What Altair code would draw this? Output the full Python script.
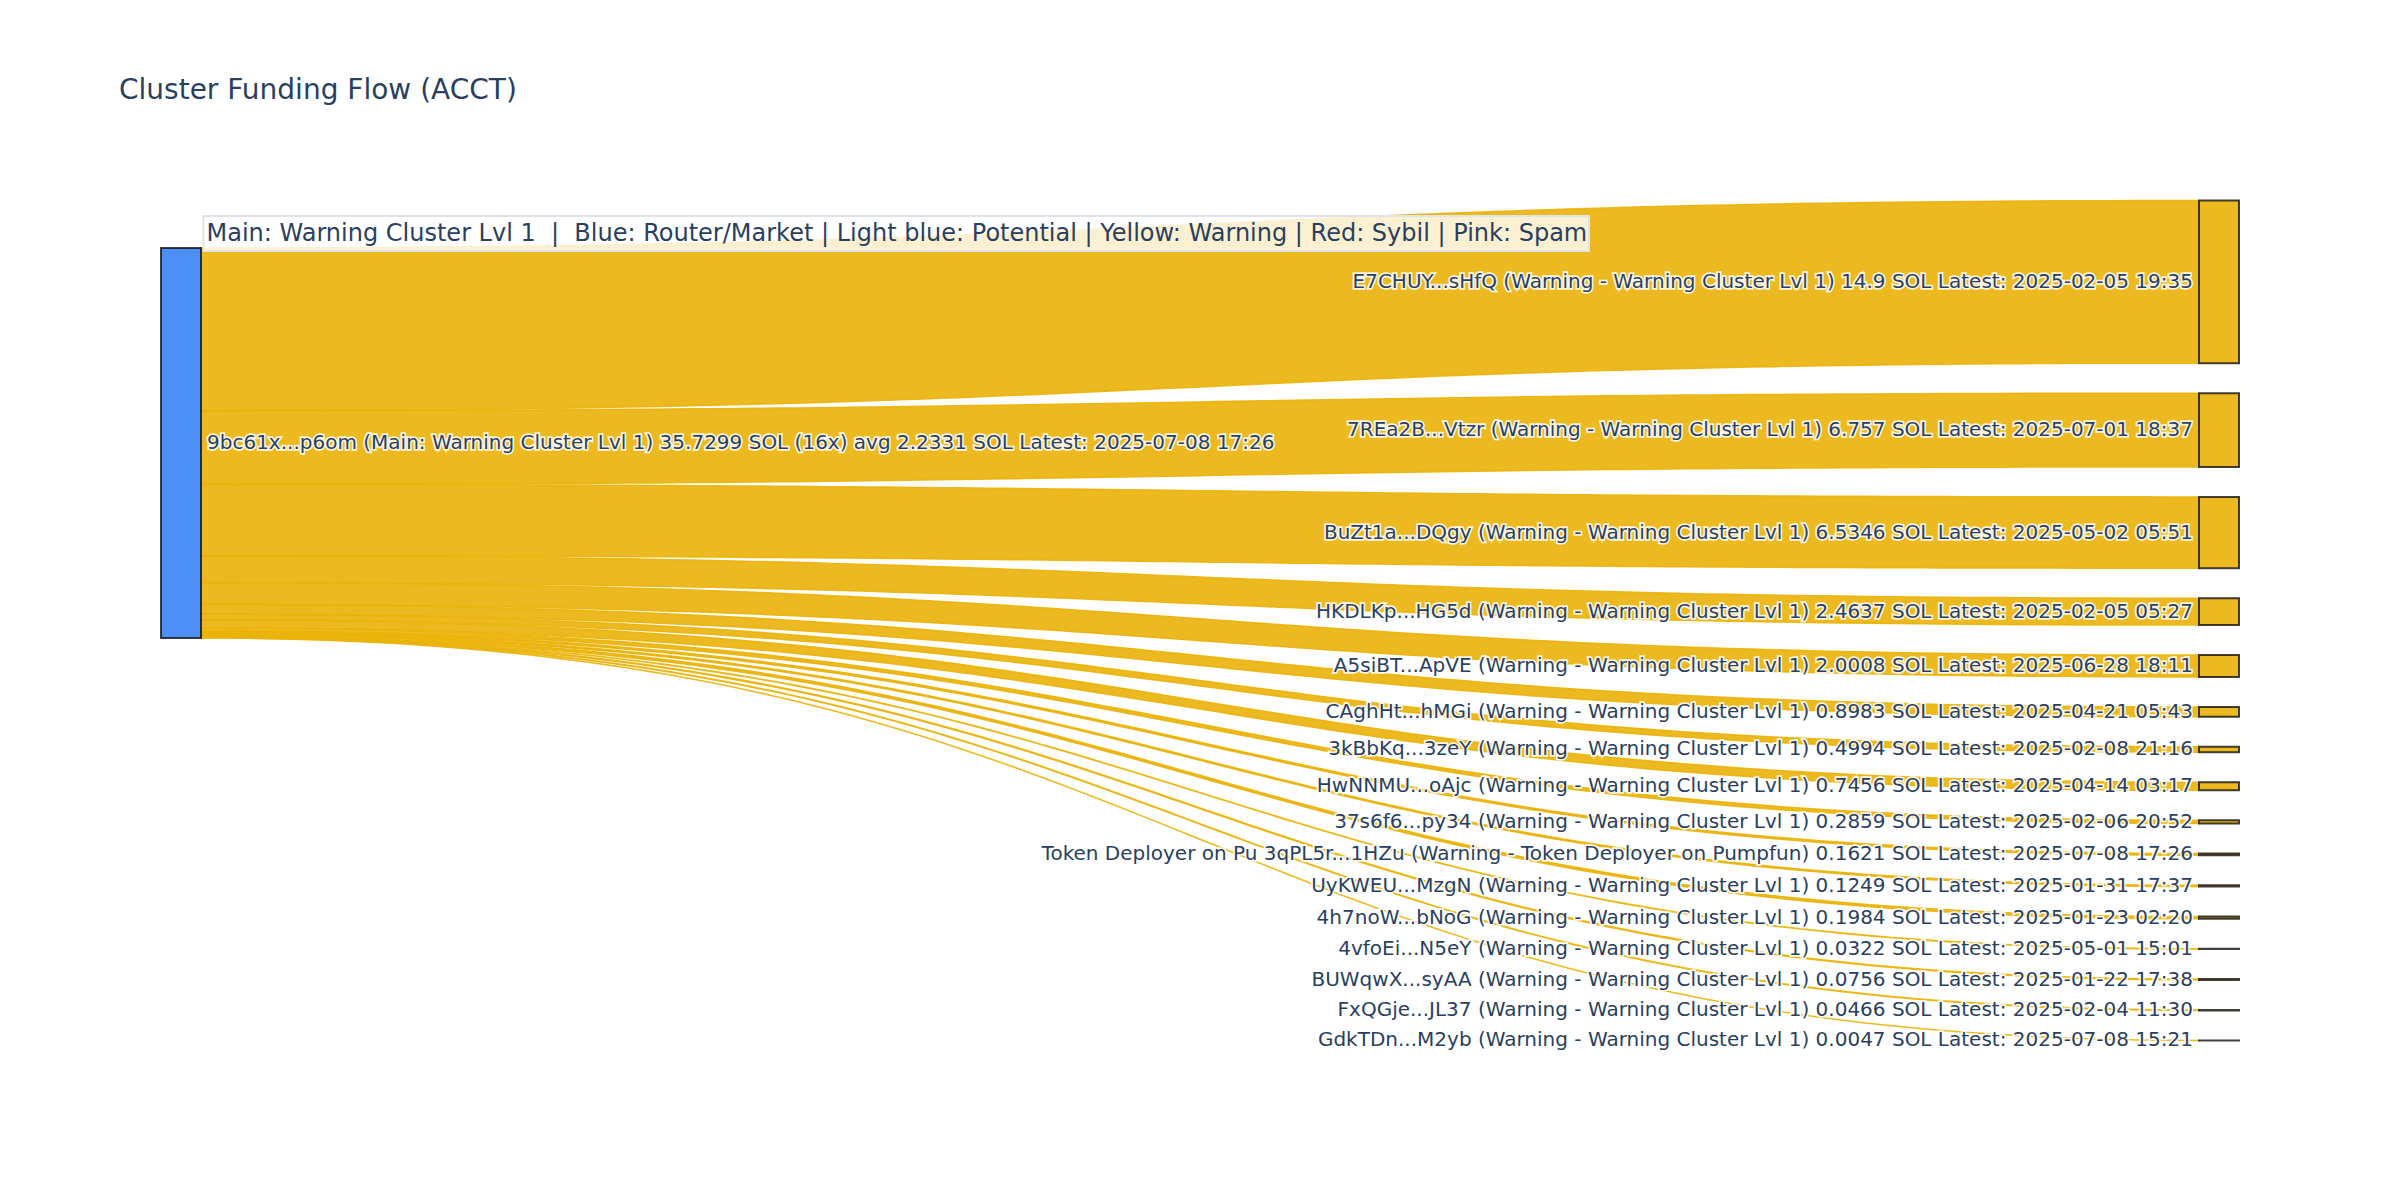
import altair as alt
import numpy as np
import pandas as pd

# ---------------- data ----------------
chart_title = "Cluster Funding Flow (ACCT)"
legend_note = ("Main: Warning Cluster Lvl 1\u00a0 |\u00a0 Blue: Router/Market | Light blue: Potential"
               " | Yellow: Warning | Red: Sybil | Pink: Spam")

source_id = "9bc61x...p6om"
source_tag = "Main: Warning Cluster Lvl 1"
source_total = 35.7299
source_count = 16
source_avg = 2.2331
source_latest = "2025-07-08 17:26"

target_ids = [
    "E7CHUY...sHfQ", "7REa2B...Vtzr", "BuZt1a...DQgy", "HKDLKp...HG5d",
    "A5siBT...ApVE", "CAghHt...hMGi", "3kBbKq...3zeY", "HwNNMU...oAjc",
    "37s6f6...py34", "Token Deployer on Pu 3qPL5r...1HZu", "UyKWEU...MzgN",
    "4h7noW...bNoG", "4vfoEi...N5eY", "BUWqwX...syAA", "FxQGje...JL37",
    "GdkTDn...M2yb",
]
target_tags = (["Warning - Warning Cluster Lvl 1"] * 9
               + ["Warning - Token Deployer on Pumpfun"]
               + ["Warning - Warning Cluster Lvl 1"] * 6)
target_sol = [14.9, 6.757, 6.5346, 2.4637, 2.0008, 0.8983, 0.4994, 0.7456,
              0.2859, 0.1621, 0.1249, 0.1984, 0.0322, 0.0756, 0.0466, 0.0047]
target_latest = [
    "2025-02-05 19:35", "2025-07-01 18:37", "2025-05-02 05:51", "2025-02-05 05:27",
    "2025-06-28 18:11", "2025-04-21 05:43", "2025-02-08 21:16", "2025-04-14 03:17",
    "2025-02-06 20:52", "2025-07-08 17:26", "2025-01-31 17:37", "2025-01-23 02:20",
    "2025-05-01 15:01", "2025-01-22 17:38", "2025-02-04 11:30", "2025-07-08 15:21",
]

# ---------------- layout (sankey geometry, pixel space) ----------------
W, H = 2384, 1184
K = 10.915            # px per SOL
NODE_W = 40
SRC_X0 = 153
TGT_X0 = 2191
SRC_TOP = 240
TGT_TOP = 192.5
PAD = 30
LABEL_GAP = 6

FONT = "DejaVu Sans"
TEXT_COLOR = "#2a3f5f"
YELLOW = "#eab308"
BLUE = "#3b82f6"
LABEL_SIZE = 20

vals = np.array(target_sol, dtype=float)
hts = vals * K
tgt_y0 = TGT_TOP + np.concatenate([[0.0], np.cumsum(hts[:-1] + PAD)])
tgt_y1 = tgt_y0 + hts
src_y0 = SRC_TOP + np.concatenate([[0.0], np.cumsum(hts[:-1])])
src_y1 = src_y0 + hts
src_bottom = SRC_TOP + source_total * K

nodes = pd.DataFrame({
    "name": [source_id] + target_ids,
    "x0": [SRC_X0] + [TGT_X0] * len(target_ids),
    "x1": [SRC_X0 + NODE_W] + [TGT_X0 + NODE_W] * len(target_ids),
    "y0": [SRC_TOP] + list(tgt_y0),
    "y1": [src_bottom] + list(tgt_y1),
    "fill": [BLUE] + [YELLOW] * len(target_ids),
})

# links as cubic bezier bands (curvature 0.5)
ts = np.linspace(0, 1, 97)
lx0 = SRC_X0 + NODE_W
lx1 = TGT_X0
xm = (lx0 + lx1) / 2
bx = (1 - ts) ** 3 * lx0 + 3 * (1 - ts) ** 2 * ts * xm + 3 * (1 - ts) * ts ** 2 * xm + ts ** 3 * lx1


def bez(a, b):
    return (1 - ts) ** 3 * a + 3 * (1 - ts) ** 2 * ts * a + 3 * (1 - ts) * ts ** 2 * b + ts ** 3 * b


rows = []
for i, tid in enumerate(target_ids):
    top = bez(src_y0[i], tgt_y0[i])
    bot = bez(src_y1[i], tgt_y1[i])
    for j in range(len(ts)):
        rows.append({"link": tid, "x": bx[j], "ytop": top[j], "ybot": bot[j]})
links = pd.DataFrame(rows)

src_label = (f"{source_id} ({source_tag}) {source_total} SOL ({source_count}x) "
             f"avg {source_avg} SOL Latest: {source_latest}")
tgt_labels = pd.DataFrame({
    "x": [TGT_X0 - LABEL_GAP] * len(target_ids),
    "y": (tgt_y0 + tgt_y1) / 2,
    "text": [f"{i} ({t}) {v} SOL Latest: {d}"
             for i, t, v, d in zip(target_ids, target_tags, target_sol, target_latest)],
})
src_labels = pd.DataFrame({
    "x": [SRC_X0 + NODE_W + LABEL_GAP],
    "y": [(SRC_TOP + src_bottom) / 2],
    "text": [src_label],
})

xs = alt.Scale(domain=[0, W], nice=False, zero=False)
ys = alt.Scale(domain=[0, H], reverse=True, nice=False, zero=False)

link_layer = alt.Chart(links).mark_area(
    orient="vertical", color=YELLOW, fillOpacity=0.9,
    stroke=YELLOW, strokeWidth=1.5, strokeOpacity=0.9,
    interpolate="linear",
).encode(
    x=alt.X("x:Q", scale=xs, axis=None),
    y=alt.Y("ytop:Q", scale=ys, axis=None),
    y2="ybot:Q",
    detail="link:N",
)

node_layer = alt.Chart(nodes).mark_rect(
    fillOpacity=0.9, stroke="#111111", strokeOpacity=0.8, strokeWidth=2,
).encode(
    x=alt.X("x0:Q", scale=xs, axis=None), x2="x1:Q",
    y=alt.Y("y0:Q", scale=ys, axis=None), y2="y1:Q",
    fill=alt.Fill("fill:N", scale=None),
)


def label_layers(df, align):
    base = alt.Chart(df).encode(
        x=alt.X("x:Q", scale=xs, axis=None),
        y=alt.Y("y:Q", scale=ys, axis=None),
        text="text:N",
    )
    halo = base.mark_text(align=align, baseline="middle", font=FONT, fontSize=LABEL_SIZE,
                          color="white", stroke="white", strokeWidth=3.5, strokeOpacity=0.85)
    txt = base.mark_text(align=align, baseline="middle", font=FONT, fontSize=LABEL_SIZE,
                         color=TEXT_COLOR)
    return [halo, txt]


note_df = pd.DataFrame({"text": [legend_note]})
note_box = alt.Chart(note_df).mark_rect(
    fill="white", fillOpacity=0.8, stroke="#e1e3ea", strokeWidth=2,
).encode(x=alt.value(195.5), x2=alt.value(1581), y=alt.value(208), y2=alt.value(243))
note_txt = alt.Chart(note_df).mark_text(
    align="left", baseline="middle", font=FONT, fontSize=24, color=TEXT_COLOR,
).encode(x=alt.value(198.5), y=alt.value(226), text="text:N")

title_df = pd.DataFrame({"text": [chart_title]})
title_txt = alt.Chart(title_df).mark_text(
    align="left", baseline="alphabetic", font=FONT, fontSize=28, color=TEXT_COLOR,
).encode(x=alt.value(111), y=alt.value(91), text="text:N")

chart = alt.layer(
    link_layer, node_layer, note_box, note_txt,
    *label_layers(tgt_labels, "right"), *label_layers(src_labels, "left"),
    title_txt,
).properties(
    width=W, height=H, padding=0,
    autosize=alt.AutoSizeParams(type="none"),
    background="white",
).configure_view(stroke=None)

chart.save("out.html", embed_options={"renderer": "svg", "actions": False})
